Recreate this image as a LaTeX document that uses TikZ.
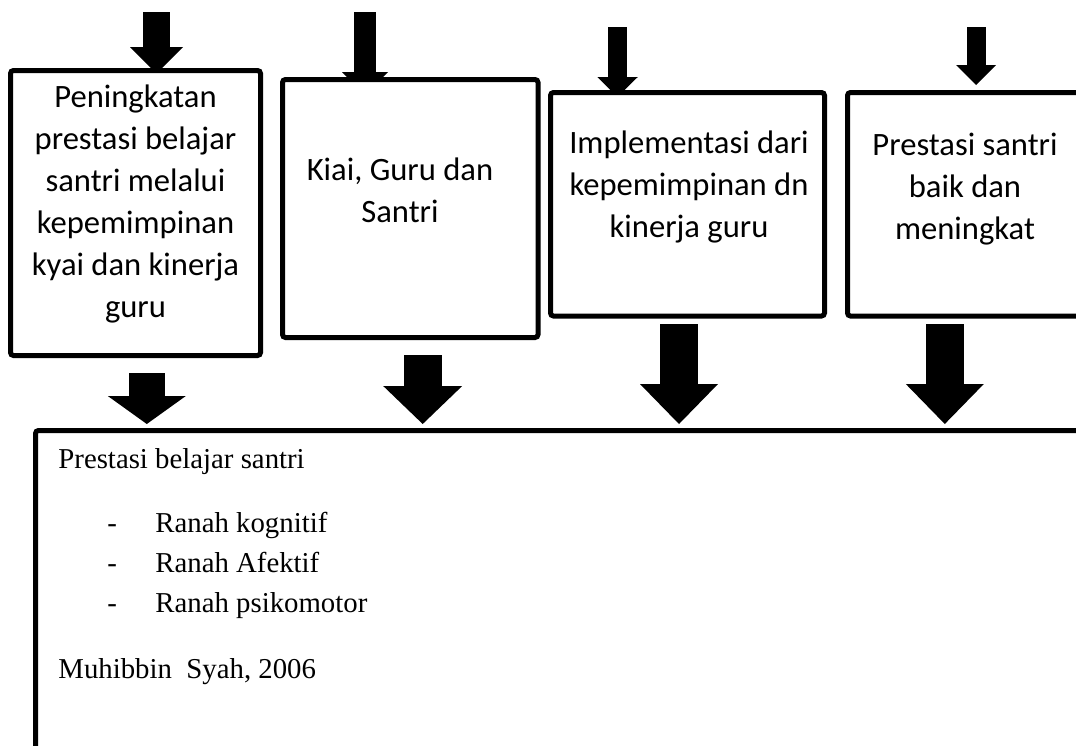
\documentclass[tikz,border=0pt]{standalone}
\usepackage{fontspec}
\setmainfont{Liberation Serif}
\newfontfamily\carlito{Carlito}
\usetikzlibrary{arrows.meta, backgrounds}

\begin{document}
\begin{tikzpicture}[x=0.5pt, y=-0.5pt,
    bx/.style={draw, line width=2.5pt, rounded corners=1.5pt, fill=white,
               outer sep=0pt, inner sep=0pt},
    tx/.style={font=\carlito\fontsize{16.3}{21}\selectfont, align=flush center,
               text width=130pt, anchor=base, inner sep=0pt},
    rt/.style={font=\fontsize{14.4}{20}\selectfont, align=flush left,
               text width=400pt, anchor=base west, inner sep=0pt},
    blk/.style n args={4}{line width=#1, shorten >=#4,
               -{Triangle[width=#2, length=#3, line width=0pt]}}
  ]
  \useasboundingbox (0,0) rectangle (1076,745);
  \clip (0,0) rectangle (1076,745);

  % kotak atas
  \node[bx, minimum width=125pt, minimum height=142.5pt]
        (b1) at (135.5,213) {};
  \node[bx, minimum width=127.75pt, minimum height=129pt]
        (b2) at (410.25,208.5) {};
  \node[bx, minimum width=137pt, minimum height=111.75pt]
        (b3) at (687.5,204.25) {};
  \node[bx, minimum width=117.5pt, minimum height=111.75pt]
        (b4) at (965,204.25) {};
  % kotak bawah
  \node[bx, minimum width=542.25pt, minimum height=184.75pt]
        (b5) at (577.75,615.25) {};

  \node[tx] (t1) at (135.5,107)
        {Peningkatan\\prestasi belajar\\santri melalui\\kepemimpinan\\kyai dan kinerja\\guru};
  \node[tx] (t2) at (400,180) {Kiai, Guru dan\\Santri};
  \node[tx] (t3) at (689,153) {Implementasi dari\\kepemimpinan dn\\kinerja guru};
  \node[tx] (t4) at (965,155) {Prestasi santri\\baik dan\\meningkat};

  \node[rt] (t5) at (58,468)
        {Prestasi belajar santri\\[12pt]
         \hspace*{24.5pt}\makebox[24pt][l]{-}Ranah kognitif\\
         \hspace*{24.5pt}\makebox[24pt][l]{-}Ranah Afektif\\
         \hspace*{24.5pt}\makebox[24pt][l]{-}Ranah psikomotor\\[13pt]
         Muhibbin\ \ Syah, 2006};

  % panah
  \coordinate (p1) at (156.5,12);
  \coordinate (p2) at (365,12);
  \coordinate (p3) at (617.5,27);
  \coordinate (p4) at (976,27);
  \coordinate (q1) at (146.8,373);
  \coordinate (q2) at (422.7,355);
  \coordinate (q3) at (679,324);
  \coordinate (q4) at (944.8,324);

  \begin{pgfonlayer}{background}
    \draw[blk={13.5pt}{26.5pt}{13.25pt}{-1.5pt}] (p1) -- (p1 |- b1.north);
    \draw[blk={11pt}{23pt}{11.5pt}{-7.75pt}]     (p2) -- (p2 |- b2.north);
    \draw[blk={9.5pt}{20.25pt}{10pt}{-2.25pt}]   (p3) -- (p3 |- b3.north);
    \draw[blk={9.5pt}{20pt}{10pt}{3.75pt}]       (p4) -- (p4 |- b4.north);

    \draw[blk={18pt}{39pt}{14pt}{3.25pt}]   (q1) -- (q1 |- b5.north);
    \draw[blk={19pt}{39.5pt}{19pt}{3.25pt}] (q2) -- (q2 |- b5.north);
    \draw[blk={19pt}{39pt}{20pt}{3.25pt}]   (q3) -- (q3 |- b5.north);
    \draw[blk={19pt}{39pt}{20pt}{3.25pt}]   (q4) -- (q4 |- b5.north);
  \end{pgfonlayer}
\end{tikzpicture}
\end{document}
